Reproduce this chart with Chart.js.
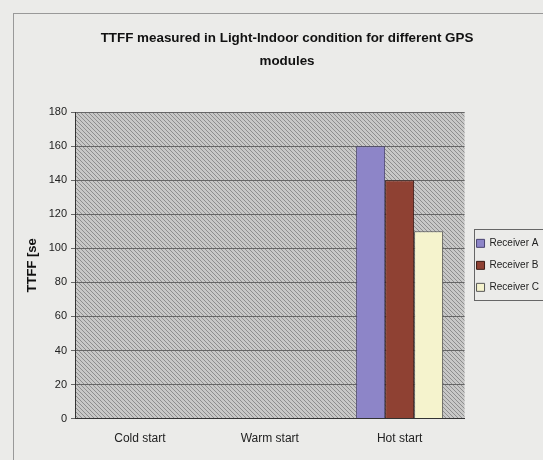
<!DOCTYPE html>
<html>
<head>
<meta charset="utf-8">
<script src="https://cdn.jsdelivr.net/npm/chart.js"></script>
<style>
  html, body { margin: 0; padding: 0; background: #ebebe9; overflow: hidden; }
  #wrap { width: 549px; height: 460px; }
</style>
</head>
<body>
<div id="wrap"><canvas id="ttffChart" width="549" height="460"></canvas></div>
<script>
// categories and values (seconds)
const startModes = ['Cold start', 'Warm start', 'Hot start'];
const receiverA = [0, 0, 160];
const receiverB = [0, 0, 140];
const receiverC = [0, 0, 110];
const receiverNames = ['Receiver A', 'Receiver B', 'Receiver C'];

const FONT = '"Liberation Sans Narrow", "Liberation Sans", Arial, sans-serif';

// grey hatch used by the plot area
function makeHatch() {
    const c = document.createElement('canvas');
    c.width = 4; c.height = 4;
    const g = c.getContext('2d');
    g.fillStyle = '#c8c8c7';
    g.fillRect(0, 0, 4, 4);
    g.strokeStyle = '#8e8e8e';
    g.lineWidth = 1;
    g.beginPath();
    g.moveTo(-1, -1); g.lineTo(5, 5);
    g.moveTo(-3, 1); g.lineTo(3, 7);
    g.moveTo(1, -3); g.lineTo(7, 3);
    g.stroke();
    return g.createPattern(c, 'repeat');
}

const backdrop = {
    id: 'backdrop',
    beforeDraw(chart) {
        const ctx = chart.ctx;
        const a = chart.chartArea;
        ctx.save();
        ctx.fillStyle = '#ebebe9';
        ctx.fillRect(0, 0, chart.width, chart.height);
        // outer frame of the chart object
        ctx.strokeStyle = '#999';
        ctx.lineWidth = 1;
        ctx.strokeRect(13.5, 13.5, chart.width, chart.height);
        ctx.fillStyle = makeHatch();
        ctx.fillRect(a.left, a.top, a.right - a.left, a.bottom - a.top);
        ctx.restore();
    },
    afterDraw(chart) {
        // box round the legend entries only
        const l = chart.legend;
        const boxes = l.legendHitBoxes;
        if (!boxes || !boxes.length) return;
        const top = Math.min(...boxes.map(b => b.top)) - 9;
        const bottom = Math.max(...boxes.map(b => b.top + b.height)) + 8;
        const ctx = chart.ctx;
        ctx.save();
        ctx.strokeStyle = '#666';
        ctx.lineWidth = 1;
        ctx.strokeRect(Math.round(l.left) + 9.5, Math.round(top) + 0.5, l.width, Math.round(bottom - top));
        ctx.restore();
    }
};

const ctx = document.getElementById('ttffChart').getContext('2d');
new Chart(ctx, {
    type: 'bar',
    data: {
        labels: startModes,
        datasets: [
            { label: receiverNames[0], data: receiverA, backgroundColor: '#8d85c8', borderColor: '#4a4470', borderWidth: 1 },
            { label: receiverNames[1], data: receiverB, backgroundColor: '#8f4133', borderColor: '#3a1a14', borderWidth: 1 },
            { label: receiverNames[2], data: receiverC, backgroundColor: '#f5f3cd', borderColor: '#555', borderWidth: 1 }
        ]
    },
    options: {
        responsive: false,
        animation: false,
        layout: { padding: { left: 25, right: 0, top: 0, bottom: 9 } },
        datasets: { bar: { categoryPercentage: 0.67, barPercentage: 1.0 } },
        plugins: {
            title: {
                display: true,
                text: ['TTFF measured in Light-Indoor condition for different GPS', 'modules'],
                color: '#111',
                font: { family: FONT, size: 13.4, weight: 'bold', lineHeight: 1.72 },
                padding: { top: 27, bottom: 39 }
            },
            legend: {
                position: 'right',
                fullSize: false,
                labels: {
                    color: '#222',
                    font: { family: FONT, size: 10 },
                    boxWidth: 8, boxHeight: 8,
                    padding: 12
                }
            },
            tooltip: { enabled: false }
        },
        scales: {
            x: {
                grid: { display: false },
                border: { color: '#333' },
                ticks: { color: '#222', font: { family: FONT, size: 12 }, padding: 5 }
            },
            y: {
                min: 0, max: 180,
                afterFit(scale) { scale.width = 50; },
                ticks: { stepSize: 20, color: '#222', font: { family: FONT, size: 11 }, padding: 4 },
                grid: { color: '#666', tickLength: 4 },
                border: { color: '#333' },
                title: {
                    display: true,
                    text: 'TTFF [se',
                    color: '#111',
                    font: { family: FONT, size: 13, weight: 'bold' },
                    padding: { top: 0, bottom: 4 }
                }
            }
        }
    },
    plugins: [backdrop]
});
</script>
</body>
</html>
